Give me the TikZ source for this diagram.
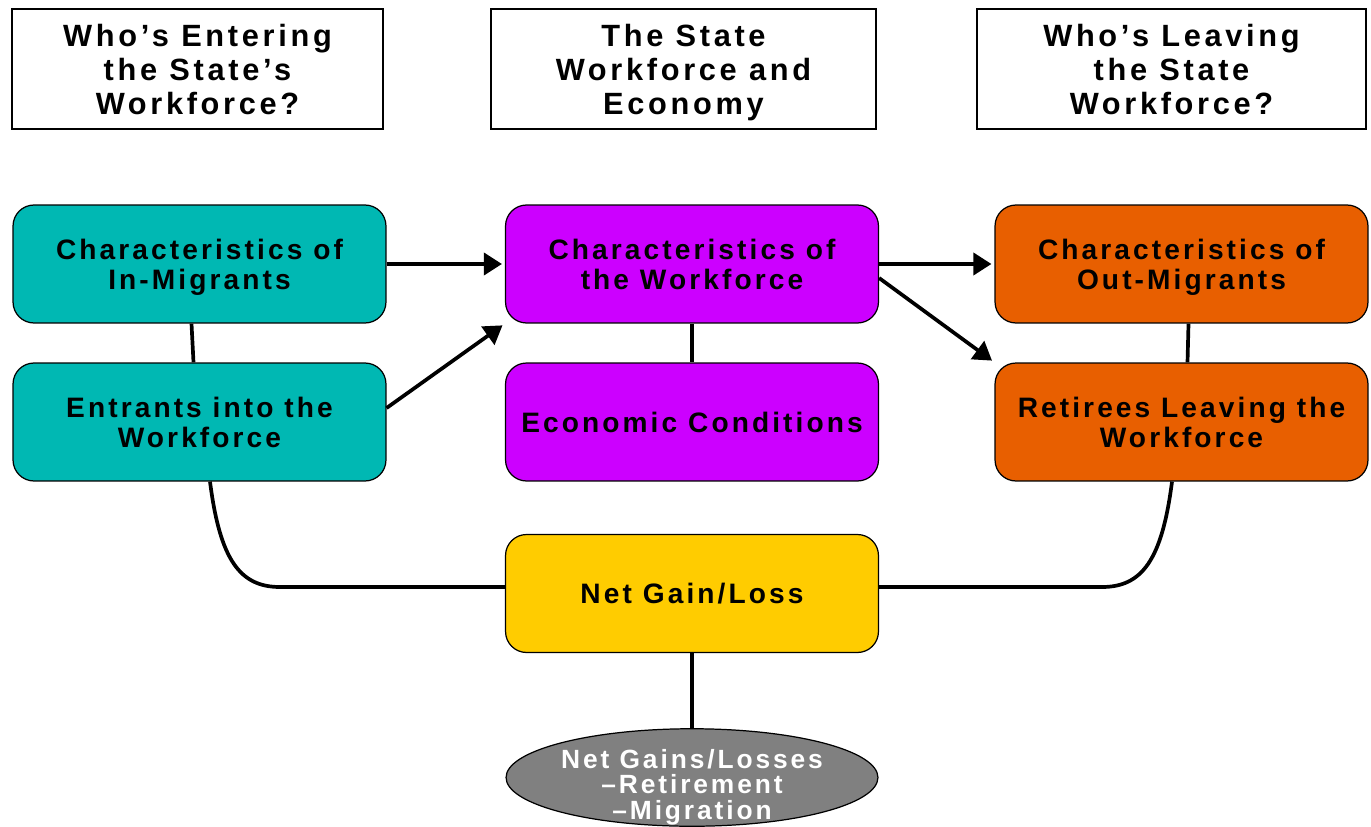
\documentclass[tikz,border=0pt]{standalone}
\usepackage{fontspec}
\setmainfont{Liberation Sans}[LetterSpace=11]
\usetikzlibrary{arrows.meta,shapes.geometric}
\definecolor{inteal}{HTML}{00B8B3}
\definecolor{workpink}{HTML}{CC00FF}
\definecolor{outorange}{HTML}{E85F00}
\definecolor{netyellow}{HTML}{FFCC00}
\definecolor{gainsgray}{HTML}{808080}
\tikzset{
  hdr/.style={draw, line width=0.9pt, minimum height=2.4cm, align=center,
    text height=1.82cm, text depth=0cm,
    font=\fontsize{17.5}{19.3}\selectfont\bfseries\addfontfeatures{LetterSpace=12}},
  box/.style={draw, line width=0.7pt, rounded corners=0.42cm, minimum width=7.46cm,
    minimum height=2.36cm, align=center, font=\fontsize{16}{17.6}\selectfont\bfseries},
  twoline/.style={text height=1.04cm, text depth=0cm},
  link/.style={line width=2.1pt},
  arr/.style={line width=2.1pt, -{Triangle[length=0.36cm,width=0.44cm]}, shorten >=0.06cm},
}
\begin{document}
\begin{tikzpicture}[x=0.02cm,y=-0.02cm]
	\useasboundingbox (0,0) rectangle (1371,827);
	% column heads
	\node[hdr,minimum width=7.42cm] (headin)  at (197.5,69)  {Who’s Entering\\ the State’s\\ Workforce?};
	\node[hdr,minimum width=7.7cm]  (headmid) at (683.5,69)  {The State\\ Workforce and\\ Economy};
	\node[hdr,minimum width=7.78cm] (headout) at (1171.5,69) {Who’s Leaving\\ the State\\ Workforce?};
	% boxes
	\node[box,twoline,fill=inteal]     (inmig)   at (199.5,264)  {Characteristics of\\ In-Migrants};
	\node[box,twoline,fill=inteal]     (entr)    at (199.5,422)  {Entrants into the\\ Workforce};
	\node[box,twoline,fill=workpink]   (work)    at (692,264)    {Characteristics of\\ the Workforce};
	\node[box,fill=workpink]           (econ)    at (692,422)    {Economic Conditions};
	\node[box,twoline,fill=outorange]  (outmig)  at (1181.5,264) {Characteristics of\\ Out-Migrants};
	\node[box,twoline,fill=outorange]  (retir)   at (1181.5,422) {Retirees Leaving the\\ Workforce};
	\node[box,fill=netyellow]          (net)     at (692,593.5)  {Net Gain/Loss};
	\node[ellipse,draw,line width=0.7pt,fill=gainsgray,minimum width=7.44cm,minimum height=1.95cm,inner sep=0pt]
	  (gains) at (692,777.5) {};
	\node[text=white,align=center,font=\fontsize{15}{14.5}\selectfont\bfseries]
	  (gainstext) at (692,787) {Net Gains/Losses\\ –Retirement\\ –Migration};
	% connectors
	\coordinate (lbend) at (280,587);
	\coordinate (rbend) at (1102,587);
	\draw[link] ([xshift=-0.16cm]inmig.south) -- ([xshift=-0.12cm]entr.north);
	\draw[link] (work.south) -- (econ.north);
	\draw[link] ([xshift=0.14cm]outmig.south) -- ([xshift=0.12cm]retir.north);
	\draw[arr] (inmig.east) -- (work.west);
	\draw[arr] ([yshift=0.28cm]entr.east) -- (work.south west);
	\draw[arr] (work.east) -- (outmig.west);
	\draw[arr] ([yshift=-0.28cm]work.east) -- (retir.north west);
	\draw[link] ([xshift=0.21cm]entr.south) .. controls (220,560) and (240,587) .. (lbend) -- (lbend -| net.west);
	\draw[link] ([xshift=-0.19cm]retir.south) .. controls (1162,560) and (1142,587) .. (rbend) -- (rbend -| net.east);
	\draw[link] (net.south) -- (gains.north);
\end{tikzpicture}
\end{document}
